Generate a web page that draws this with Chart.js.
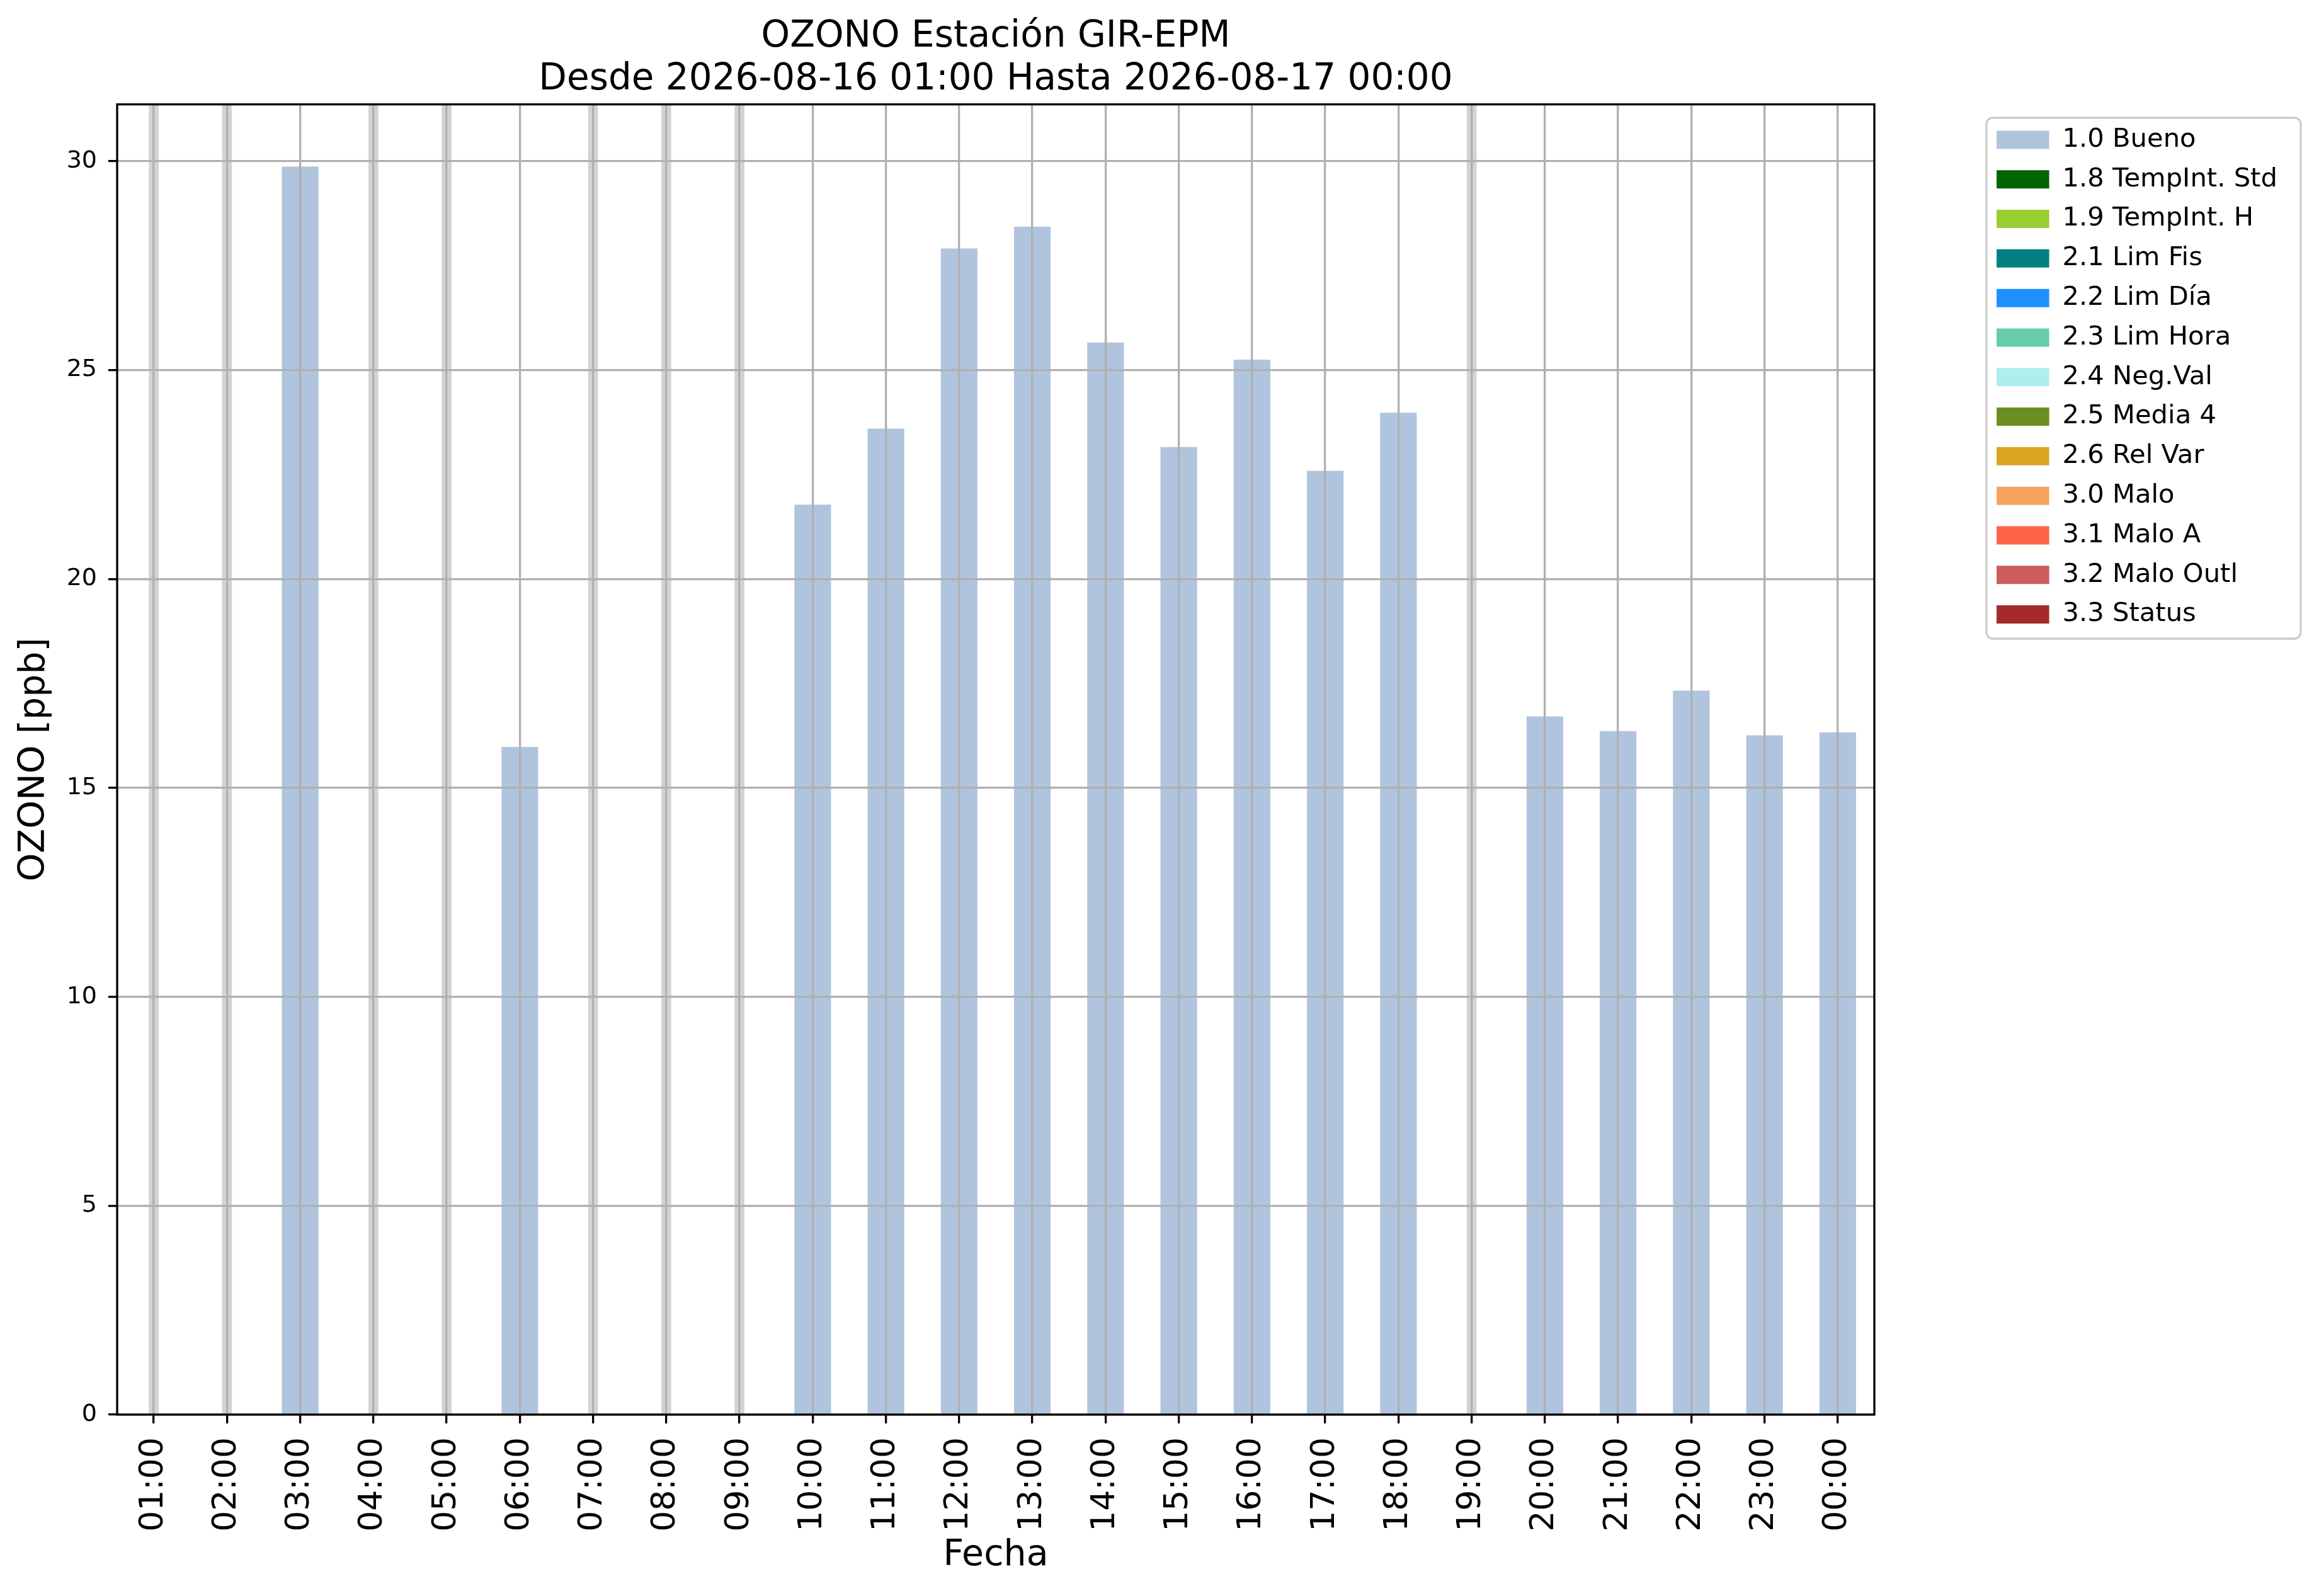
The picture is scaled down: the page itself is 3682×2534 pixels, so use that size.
<!DOCTYPE html>
<html>
<head>
<meta charset="utf-8">
<script src="https://cdn.jsdelivr.net/npm/chart.js@4.4.1/dist/chart.umd.min.js"></script>
<style>
  html, body { margin: 0; padding: 0; background: #fff; }
  #grafica { display: block; }
</style>
</head>
<body>
<canvas id="grafica" width="3682" height="2534"></canvas>
<script>
const horas = ['01:00', '02:00', '03:00', '04:00', '05:00', '06:00', '07:00', '08:00',
  '09:00', '10:00', '11:00', '12:00', '13:00', '14:00', '15:00', '16:00', '17:00',
  '18:00', '19:00', '20:00', '21:00', '22:00', '23:00', '00:00'];

// ozono [ppb], null = sin dato
const ozono = [null, null, 29.87, null, null, 15.98, null, null,
  null, 21.78, 23.60, 27.91, 28.43, 25.66, 23.16, 25.25, 22.59,
  23.98, null, 16.71, 16.36, 17.33, 16.26, 16.33];

const banderas = ['1.0 Bueno', '1.8 TempInt. Std', '1.9 TempInt. H', '2.1 Lim Fis', '2.2 Lim Día',
  '2.3 Lim Hora', '2.4 Neg.Val', '2.5 Media 4', '2.6 Rel Var', '3.0 Malo', '3.1 Malo A',
  '3.2 Malo Outl', '3.3 Status'];
const coloresBandera = ['#B0C4DE', '#006400', '#9ACD32', '#008080', '#1E90FF', '#66CDAA',
  '#AFEEEE', '#6B8E23', '#DAA520', '#F4A460', '#FF6347', '#CD5C5C', '#A52A2A'];

const yMax = 31.36;
const pasoY = 5;

const fuente = 'DejaVu Sans';
Chart.defaults.color = '#000';
Chart.defaults.font.family = fuente;

// cada bandera es una serie; solo "Bueno" tiene datos en este periodo
const datasets = banderas.map((b, i) => ({
  label: b,
  data: i === 0 ? ozono : [],
  backgroundColor: coloresBandera[i],
  barPercentage: 0.5
}));
// franjas grises donde falta el dato
datasets.push({
  label: 'sin dato',
  data: ozono.map(v => v === null ? yMax : null),
  backgroundColor: '#d3d3d3',
  barPercentage: 0.135
});

const marco = {
  id: 'marco',
  beforeDraw(chart) {
    const lg = chart.legend;
    lg.left = 3149; lg.top = 180;
    lg.width = 520; lg.height = 860;
    lg.right = lg.left + lg.width; lg.bottom = lg.top + lg.height;
    const ctx = chart.ctx;
    ctx.save();
    ctx.strokeStyle = '#cccccc';
    ctx.lineWidth = 3.3;
    ctx.beginPath();
    ctx.roundRect(3154, 187, 499, 827, 10);
    ctx.stroke();
    ctx.restore();
  },
  afterDraw(chart) {
    // los cuatro bordes del area de trazado
    const a = chart.chartArea;
    const ctx = chart.ctx;
    ctx.save();
    ctx.strokeStyle = '#000';
    ctx.lineWidth = 3.3;
    ctx.strokeRect(a.left, a.top, a.right - a.left, a.bottom - a.top);
    ctx.restore();
  }
};

new Chart(document.getElementById('grafica'), {
  type: 'bar',
  data: { labels: horas, datasets: datasets },
  plugins: [marco],
  options: {
    responsive: false,
    animation: false,
    devicePixelRatio: 1,
    layout: { padding: { left: 0, right: 705, top: 0, bottom: 0 } },
    datasets: {
      bar: { grouped: false, categoryPercentage: 1, borderWidth: 0 }
    },
    plugins: {
      title: {
        display: true,
        fullSize: false,
        text: ['OZONO Estación GIR-EPM', 'Desde 2026-08-16 01:00 Hasta 2026-08-17 00:00'],
        font: { size: 58, weight: 'normal', lineHeight: 1.17 },
        padding: { top: 25, bottom: 5 }
      },
      legend: {
        position: 'right',
        align: 'start',
        maxWidth: 1,
        labels: {
          filter: item => item.text !== 'sin dato',
          boxWidth: 83.5,
          boxHeight: 29,
          padding: 21.1,
          font: { size: 41.7 }
        }
      },
      tooltip: { enabled: false }
    },
    scales: {
      x: {
        offset: true,
        grid: { z: 1, offset: false, color: '#b0b0b0', lineWidth: 3.3, tickColor: '#000', tickWidth: 3.3, tickLength: 14 },
        border: { display: false },
        ticks: { autoSkip: false, maxRotation: 90, minRotation: 90, font: { size: 52 }, padding: 22 },
        title: { display: true, text: 'Fecha', font: { size: 57 }, padding: { top: 0, bottom: 30 } },
        afterFit(scale) { scale.height = 288; }
      },
      y: {
        min: 0,
        max: yMax,
        grid: { z: 1, color: '#b0b0b0', lineWidth: 3.3, tickColor: '#000', tickWidth: 3.3, tickLength: 14 },
        border: { display: false },
        ticks: { stepSize: pasoY, includeBounds: false, font: { size: 38 }, padding: 18 },
        title: { display: true, text: 'OZONO [ppb]', font: { size: 57 }, padding: { top: 21, bottom: 0 } },
        afterFit(scale) { scale.width = 186; }
      }
    }
  }
});
</script>
</body>
</html>
